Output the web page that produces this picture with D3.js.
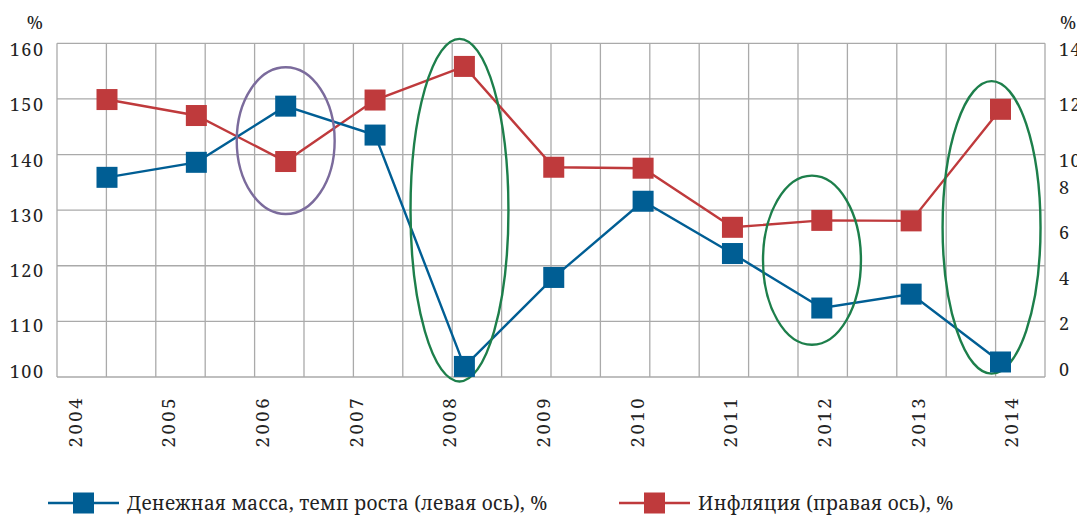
<!DOCTYPE html>
<html>
<head>
<meta charset="utf-8">
<script src="https://cdn.jsdelivr.net/npm/d3@7"></script>
<style>
  body { margin: 0; background: #fff; }
  svg text { font-family: "Noto Serif", "Liberation Serif", serif; fill: #222; }
</style>
</head>
<body>
<svg id="chart" width="1077" height="516"></svg>
<script>
'use strict';
// data
const years = ['2004', '2005', '2006', '2007', '2008', '2009', '2010', '2011', '2012', '2013', '2014'];
const moneyGrowth = [135.9, 138.6, 148.7, 143.5, 101.9, 117.9, 131.6, 122.2, 112.4, 114.9, 102.7];
const inflation = [11.64, 10.97, 9.04, 11.62, 13.03, 8.8, 8.76, 6.28, 6.57, 6.55, 11.23];
const leftTicks = [100, 110, 120, 130, 140, 150, 160];
const rightTicks = [0, 2, 4, 6, 8, 10, 12, 14];
const seriesNames = ['Денежная масса, темп роста (левая ось), %', 'Инфляция (правая ось), %'];
// highlighted years: centre year, shift in steps, top/bottom in left-axis units
const circled = [
    { year: '2006', dx: 0, hi: 155.7, lo: 129.3, color: '#7b6b9c' },
    { year: '2008', dx: -0.055, hi: 160.8, lo: 99.2, color: '#1d7f4b' },
    { year: '2012', dx: -0.11, hi: 136.2, lo: 105.8, color: '#1d7f4b' },
    { year: '2014', dx: -0.1, hi: 153.2, lo: 100.6, color: '#1d7f4b' }
];

const blue = '#005e94', red = '#bf3a3c', gridColor = '#aaaaaa';
const svg = d3.select('#chart');
const plotLeft = 57, plotRight = 1045, plotTop = 43.3, plotBottom = 377;

let x = d3.scalePoint().domain(years).range([107, 1000.5]);
let yLeft = d3.scaleLinear().domain([100, 160]).range([plotBottom, plotTop]);
let yRight = d3.scaleLinear().domain([0, 14]).range([plotBottom, plotTop]);

// grid: 20 columns, rows on left ticks
let gridX = d3.scaleLinear().domain([0, 20]).range([plotLeft, plotRight]);
let grid = svg.append('g');
grid.selectAll('line.v').data(d3.range(21)).enter().append('line')
    .attr('x1', d => gridX(d)).attr('x2', d => gridX(d))
    .attr('y1', plotTop).attr('y2', plotBottom)
    .attr('stroke', gridColor).attr('stroke-width', 1.3);
grid.selectAll('line.h').data(leftTicks).enter().append('line')
    .attr('x1', plotLeft).attr('x2', plotRight)
    .attr('y1', d => yLeft(d)).attr('y2', d => yLeft(d))
    .attr('stroke', gridColor).attr('stroke-width', 1.3);

// tick labels sit a little off the grid in the original
let yLeftLabel = d3.scaleLinear().domain([100, 110, 160]).range([371, 325.5, 49]);
let yRightLabel = d3.scaleLinear().domain([0, 8, 10, 14]).range([369, 187, 160, 49]);
let xLabel = d3.scalePoint().domain(years).range([74.5, 1011]);

let axL = svg.append('g').attr('transform', `translate(${plotLeft},0)`)
    .call(d3.axisLeft(yLeftLabel).tickValues(leftTicks).tickSize(0).tickPadding(12.5));
let axR = svg.append('g').attr('transform', `translate(${plotRight},0)`)
    .call(d3.axisRight(yRightLabel).tickValues(rightTicks).tickSize(0).tickPadding(14));
let axB = svg.append('g').attr('transform', `translate(0,${plotBottom})`)
    .call(d3.axisBottom(xLabel).tickSize(0));
[axL, axR, axB].forEach(a => {
    a.select('.domain').remove();
    a.attr('font-family', null).attr('font-size', null);
    a.selectAll('text').attr('fill', null).style('font-size', '18px').style('letter-spacing', '1.5px');
});
axL.selectAll('text').attr('dy', '0.36em');
axR.selectAll('text').attr('dy', '0.36em');
axB.selectAll('text')
    .attr('transform', 'rotate(-90)')
    .attr('x', -19).attr('y', 0).attr('dy', '0.36em')
    .style('text-anchor', 'end').style('font-size', '18.5px').style('letter-spacing', '2.5px');

svg.append('text').attr('x', 43).attr('y', 29).attr('text-anchor', 'end').style('font-size', '18px').text('%');
svg.append('text').attr('x', 1060).attr('y', 29).style('font-size', '18px').text('%');

// lines
let lineL = d3.line().x((d, i) => x(years[i])).y(d => yLeft(d));
let lineR = d3.line().x((d, i) => x(years[i])).y(d => yRight(d));
svg.append('path').attr('d', lineR(inflation)).attr('fill', 'none').attr('stroke', red).attr('stroke-width', 2.4);
svg.append('path').attr('d', lineL(moneyGrowth)).attr('fill', 'none').attr('stroke', blue).attr('stroke-width', 2.4);

// ellipses
let step = x.step();
svg.selectAll('ellipse.mark').data(circled).enter().append('ellipse')
    .attr('cx', d => x(d.year) + d.dx * step)
    .attr('cy', d => (yLeft(d.hi) + yLeft(d.lo)) / 2)
    .attr('rx', step * 0.548)
    .attr('ry', d => (yLeft(d.lo) - yLeft(d.hi)) / 2)
    .attr('fill', 'none').attr('stroke', d => d.color).attr('stroke-width', 2.4);

// markers
const ms = 21;
svg.selectAll('rect.r').data(inflation).enter().append('rect')
    .attr('x', (d, i) => x(years[i]) - ms / 2).attr('y', d => yRight(d) - ms / 2)
    .attr('width', ms).attr('height', ms).attr('fill', red);
svg.selectAll('rect.b').data(moneyGrowth).enter().append('rect')
    .attr('x', (d, i) => x(years[i]) - ms / 2).attr('y', d => yLeft(d) - ms / 2)
    .attr('width', ms).attr('height', ms).attr('fill', blue);

// legend
let legend = [
    { name: seriesNames[0], color: blue, x0: 48 },
    { name: seriesNames[1], color: red, x0: 619 }
];
let lg = svg.selectAll('g.legend').data(legend).enter().append('g')
    .attr('transform', d => `translate(${d.x0},503)`);
lg.append('line').attr('x1', 0).attr('x2', 71).attr('y1', 0).attr('y2', 0)
    .attr('stroke', d => d.color).attr('stroke-width', 2.4);
lg.append('rect').attr('x', 25).attr('y', -10.5).attr('width', ms).attr('height', ms).attr('fill', d => d.color);
lg.append('text').attr('x', 79).attr('y', 0).attr('dy', '0.36em')
    .style('font-size', '19px').style('letter-spacing', '0.3px').text(d => d.name);
</script>
</body>
</html>
